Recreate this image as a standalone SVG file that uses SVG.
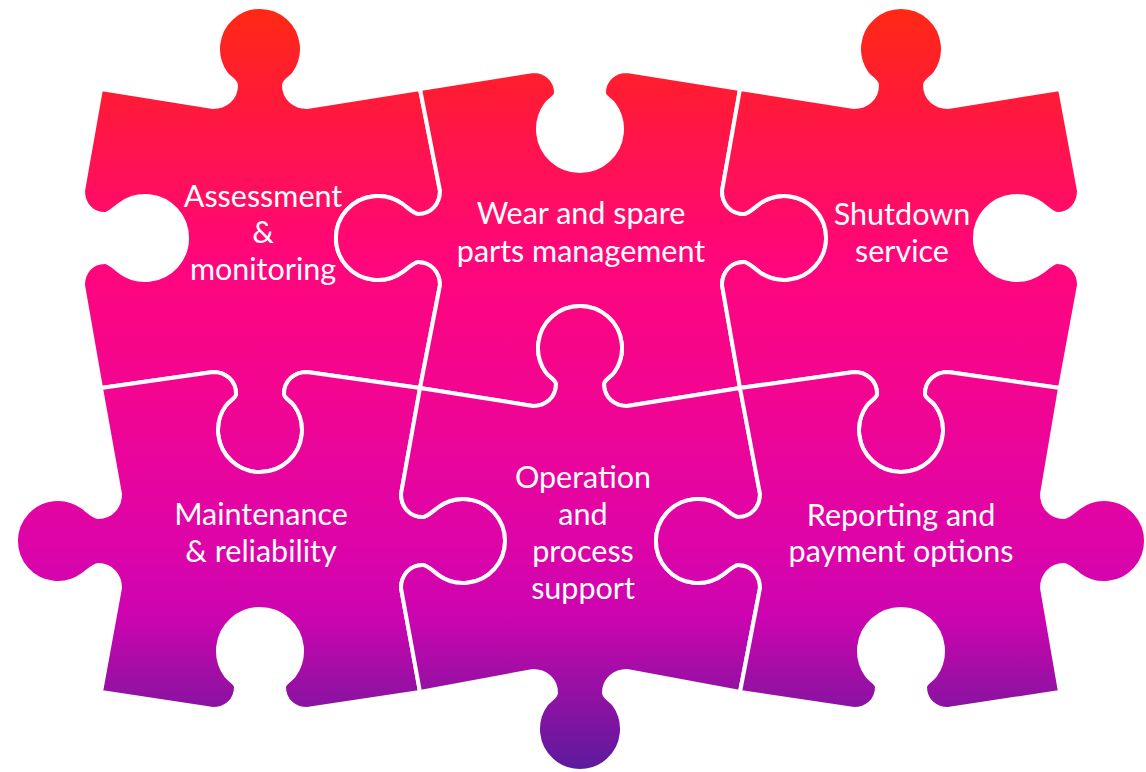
<svg xmlns="http://www.w3.org/2000/svg" width="1146" height="772" viewBox="0 0 1146 772">
<defs>
<linearGradient id="g" gradientUnits="userSpaceOnUse" x1="0" y1="0" x2="0" y2="772">
<stop offset="0" stop-color="#ff2a10"/>
<stop offset="0.13" stop-color="#ff1a38"/>
<stop offset="0.33" stop-color="#ff067a"/>
<stop offset="0.5" stop-color="#f30590"/>
<stop offset="0.7" stop-color="#de04a8"/>
<stop offset="0.8" stop-color="#cc04b0"/>
<stop offset="0.88" stop-color="#9d0fa4"/>
<stop offset="1" stop-color="#5a1b9e"/>
</linearGradient>
<style>
.pc{fill:url(#g);stroke:#fff;stroke-width:4;stroke-linejoin:round}
.t{font-family:Lato,"Noto Sans",sans-serif;font-size:30.5px;fill:#fff;text-anchor:middle}
</style>
</defs>
<rect width="1146" height="772" fill="#fff"/>
<g id="p-assessment">
<path class="pc" d="M101,89 L213,107 C225,107 236,99 236,85 C236,81 228.9,77.65 226,73.6 A42,42 0 1 1 294,73.6 C291.1,77.65 284,81 284,85 C284,99 295,107 307,107 L420,89 L440,191 C440,203 432,214 418,214 C414,214 406.65,206.9 402.6,204 A42,42 0 1 0 402.6,272 C406.65,269.1 414,262 418,262 C432,262 440,273 440,285 L420,388 L307,372 C295,372 284,380 284,394 C284,398 291.1,401.35 294,405.4 A42,42 0 1 1 226,405.4 C228.9,401.35 236,398 236,394 C236,380 225,372 213,372 L101,388 L83,285 C83,273 91,262 105,262 C109,262 116.35,269.1 120.4,272 A42,42 0 1 0 120.4,204 C116.35,206.9 109,214 105,214 C91,214 83,203 83,191 Z"/>
<text class="t"><tspan x="263" y="207">Assessment</tspan><tspan x="263" y="243">&amp;</tspan><tspan x="263" y="280">monitoring</tspan></text>
</g>
<g id="p-wear">
<path class="pc" d="M420,89 L533,71 C545,71 556,79 556,93 C556,97 548.9,100.35 546,104.4 A42,42 0 1 0 614,104.4 C611.1,100.35 604,97 604,93 C604,79 615,71 627,71 L740,89 L722,191 C722,203 730,214 744,214 C748,214 755.35,206.9 759.4,204 A42,42 0 1 1 759.4,272 C755.35,269.1 748,262 744,262 C730,262 722,273 722,285 L740,388 L627,406 C615,406 604,398 604,384 C604,380 611.1,376.65 614,372.6 A42,42 0 1 0 546,372.6 C548.9,376.65 556,380 556,384 C556,398 545,406 533,406 L420,388 L440,285 C440,273 432,262 418,262 C414,262 406.65,269.1 402.6,272 A42,42 0 1 1 402.6,204 C406.65,206.9 414,214 418,214 C432,214 440,203 440,191 Z"/>
<text class="t"><tspan x="581" y="224">Wear and spare</tspan><tspan x="581" y="262">parts management</tspan></text>
</g>
<g id="p-shutdown">
<path class="pc" d="M740,89 L854,107 C866,107 877,99 877,85 C877,81 869.9,77.65 867,73.6 A42,42 0 1 1 935,73.6 C932.1,77.65 925,81 925,85 C925,99 936,107 948,107 L1060,89 L1079,191 C1079,203 1071,214 1057,214 C1053,214 1045.65,206.9 1041.6,204 A42,42 0 1 0 1041.6,272 C1045.65,269.1 1053,262 1057,262 C1071,262 1079,273 1079,285 L1060,388 L948,372 C936,372 925,380 925,394 C925,398 932.1,401.35 935,405.4 A42,42 0 1 1 867,405.4 C869.9,401.35 877,398 877,394 C877,380 866,372 854,372 L740,388 L722,285 C722,273 730,262 744,262 C748,262 755.35,269.1 759.4,272 A42,42 0 1 0 759.4,204 C755.35,206.9 748,214 744,214 C730,214 722,203 722,191 Z"/>
<text class="t"><tspan x="902" y="225">Shutdown</tspan><tspan x="902" y="262">service</tspan></text>
</g>
<g id="p-maintenance">
<path class="pc" d="M101,388 L213,372 C225,372 236,380 236,394 C236,398 228.9,401.35 226,405.4 A42,42 0 1 0 294,405.4 C291.1,401.35 284,398 284,394 C284,380 295,372 307,372 L420,388 L401,494 C401,506 409,517 423,517 C427,517 434.35,509.9 438.4,507 A42,42 0 1 1 438.4,575 C434.35,572.1 427,565 423,565 C409,565 401,576 401,588 L420,692 L307,709 C295,709 284,701 284,687 C284,683 291.1,679.65 294,675.6 A42,42 0 1 0 226,675.6 C228.9,679.65 236,683 236,687 C236,701 225,709 213,709 L101,692 L120,588 C120,576 112,565 98,565 C94,565 86.65,572.1 82.6,575 A42,42 0 1 1 82.6,507 C86.65,509.9 94,517 98,517 C112,517 120,506 120,494 Z"/>
<text class="t"><tspan x="261" y="525">Maintenance</tspan><tspan x="261" y="562">&amp; reliability</tspan></text>
</g>
<g id="p-operation">
<path class="pc" d="M420,388 L533,406 C545,406 556,398 556,384 C556,380 548.9,376.65 546,372.6 A42,42 0 1 1 614,372.6 C611.1,376.65 604,380 604,384 C604,398 615,406 627,406 L740,388 L760,494 C760,506 752,517 738,517 C734,517 726.65,509.9 722.6,507 A42,42 0 1 0 722.6,575 C726.65,572.1 734,565 738,565 C752,565 760,576 760,588 L740,692 L627,671 C615,671 604,679 604,693 C604,697 611.1,700.35 614,704.4 A42,42 0 1 1 546,704.4 C548.9,700.35 556,697 556,693 C556,679 545,671 533,671 L420,692 L401,588 C401,576 409,565 423,565 C427,565 434.35,572.1 438.4,575 A42,42 0 1 0 438.4,507 C434.35,509.9 427,517 423,517 C409,517 401,506 401,494 Z"/>
<text class="t"><tspan x="583" y="488">Operation</tspan><tspan x="583" y="525">and</tspan><tspan x="583" y="562">process</tspan><tspan x="583" y="599">support</tspan></text>
</g>
<g id="p-reporting">
<path class="pc" d="M740,388 L854,372 C866,372 877,380 877,394 C877,398 869.9,401.35 867,405.4 A42,42 0 1 0 935,405.4 C932.1,401.35 925,398 925,394 C925,380 936,372 948,372 L1060,388 L1042,494 C1042,506 1050,517 1064,517 C1068,517 1075.35,509.9 1079.4,507 A42,42 0 1 1 1079.4,575 C1075.35,572.1 1068,565 1064,565 C1050,565 1042,576 1042,588 L1060,692 L948,709 C936,709 925,701 925,687 C925,683 932.1,679.65 935,675.6 A42,42 0 1 0 867,675.6 C869.9,679.65 877,683 877,687 C877,701 866,709 854,709 L740,692 L760,588 C760,576 752,565 738,565 C734,565 726.65,572.1 722.6,575 A42,42 0 1 1 722.6,507 C726.65,509.9 734,517 738,517 C752,517 760,506 760,494 Z"/>
<text class="t"><tspan x="901" y="526">Reporting and</tspan><tspan x="901" y="562">payment options</tspan></text>
</g>
</svg>
